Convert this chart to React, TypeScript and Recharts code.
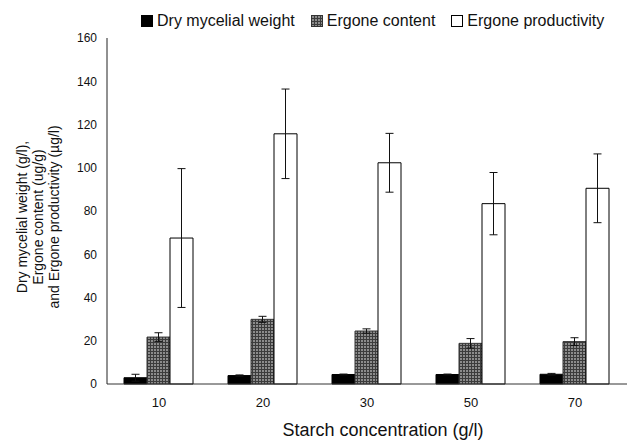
import { BarChart, Bar, XAxis, YAxis, ErrorBar, Legend } from 'recharts';

const FONT = '"Liberation Sans", Arial, Helvetica, sans-serif';

// starch concentration (g/l)
const categories = ['10', '20', '30', '50', '70'];
// dry mycelial weight (g/l)
const dryWeight = [2.9, 3.9, 4.4, 4.4, 4.5];
const dryWeightErr = [1.6, 0.3, 0.2, 0.2, 0.4];
// ergone content (ug/g)
const ergoneContent = [21.7, 29.9, 24.5, 18.8, 19.6];
const ergoneContentErr = [2.0, 1.4, 1.0, 2.2, 1.8];
// ergone productivity (ug/l)
const ergoneProductivity = [67.5, 115.7, 102.3, 83.4, 90.5];
const ergoneProductivityErr = [32.1, 20.7, 13.6, 14.4, 15.9];

const yTicks = [0, 20, 40, 60, 80, 100, 120, 140, 160];

const data = categories.map((starch, i) => ({
  starch,
  dry: dryWeight[i],
  dryErr: dryWeightErr[i],
  content: ergoneContent[i],
  contentErr: ergoneContentErr[i],
  prod: ergoneProductivity[i],
  prodErr: ergoneProductivityErr[i],
}));

const legendItems = [
  { key: 'dry', label: 'Dry mycelial weight' },
  { key: 'content', label: 'Ergone content' },
  { key: 'prod', label: 'Ergone productivity' },
];

function HatchPattern({ id }: { id: string }) {
  return (
    <pattern id={id} width={3} height={3} patternUnits="userSpaceOnUse">
      <rect width={3} height={3} fill="#8c8c8c" />
      <path d="M0 0.5H3M0.5 0V3" stroke="#3c3c3c" strokeWidth={1} />
    </pattern>
  );
}

function LegendIcon({ kind }: { kind: string }) {
  return (
    <svg width={12} height={12} style={{ marginRight: 4, display: 'block' }}>
      <defs>
        <HatchPattern id="hatch-legend" />
      </defs>
      {kind === 'dry' && <rect x={0.5} y={0.5} width={11} height={11} fill="#000" stroke="#000" />}
      {kind === 'content' && (
        <rect x={0.5} y={0.5} width={11} height={11} fill="url(#hatch-legend)" stroke="#333" />
      )}
      {kind === 'prod' && <rect x={0.5} y={0.5} width={11} height={11} fill="#fff" stroke="#000" />}
    </svg>
  );
}

function LegendContent() {
  return (
    <div style={{ display: 'flex', alignItems: 'center', fontFamily: FONT, fontSize: 16, lineHeight: '18px', color: '#111' }}>
      {legendItems.map((it) => (
        <div key={it.key} style={{ display: 'flex', alignItems: 'center', marginRight: 16 }}>
          <LegendIcon kind={it.key} />
          <span>{it.label}</span>
        </div>
      ))}
    </div>
  );
}

function YLabel(props: any) {
  const vb = props.viewBox || { x: 0, y: 38, width: 107, height: 346 };
  const cx = vb.x + 38;
  const cy = vb.y + vb.height / 2 + 6;
  return (
    <text
      x={cx}
      y={cy}
      transform={`rotate(-90 ${cx} ${cy})`}
      textAnchor="middle"
      fontSize={14}
      fontFamily={FONT}
      fill="#111"
    >
      <tspan x={cx} dy={-11}>Dry mycelial weight (g/l),</tspan>
      <tspan x={cx} dy={16}>Ergone content (ug/g)</tspan>
      <tspan x={cx} dy={16}>and Ergone productivity (µg/l)</tspan>
    </text>
  );
}

function XLabel(props: any) {
  const vb = props.viewBox || { x: 107, y: 384, width: 520, height: 57 };
  return (
    <text x={vb.x + vb.width / 2 + 16} y={vb.y + 52} textAnchor="middle" fontSize={18} fontFamily={FONT} fill="#111">
      Starch concentration (g/l)
    </text>
  );
}

export default function App() {
  return (
    <div style={{ position: 'absolute', left: 0, top: 0, background: '#fff' }}>
      <BarChart
        width={627}
        height={441}
        data={data}
        margin={{ top: 38, right: 0, bottom: 0, left: 0 }}
        barGap={0}
        barCategoryGap={17}
      >
        <defs>
          <HatchPattern id="hatch" />
        </defs>
        <XAxis
          dataKey="starch"
          height={57}
          tickLine={false}
          axisLine={{ stroke: '#333' }}
          tickMargin={8}
          tick={{ fontSize: 13, fill: '#111', fontFamily: FONT }}
          label={{ content: XLabel }}
        />
        <YAxis
          domain={[0, 160]}
          ticks={yTicks}
          interval={0}
          width={107}
          tickLine={false}
          axisLine={{ stroke: '#222' }}
          tickMargin={4}
          tick={{ fontSize: 12, fill: '#111', fontFamily: FONT }}
          label={{ content: YLabel }}
        />
        <Legend
          layout="horizontal"
          verticalAlign="middle"
          align="center"
          wrapperStyle={{ top: 12, left: 141, width: 480, height: 20 }}
          content={() => <LegendContent />}
        />
        <Bar dataKey="dry" fill="#000" stroke="#000" isAnimationActive={false}>
          <ErrorBar dataKey="dryErr" width={4} stroke="#111" strokeWidth={1} isAnimationActive={false} />
        </Bar>
        <Bar dataKey="content" fill="url(#hatch)" stroke="#333" isAnimationActive={false}>
          <ErrorBar dataKey="contentErr" width={4} stroke="#111" strokeWidth={1} isAnimationActive={false} />
        </Bar>
        <Bar dataKey="prod" fill="#fff" stroke="#000" isAnimationActive={false}>
          <ErrorBar dataKey="prodErr" width={4} stroke="#111" strokeWidth={1} isAnimationActive={false} />
        </Bar>
      </BarChart>
    </div>
  );
}
